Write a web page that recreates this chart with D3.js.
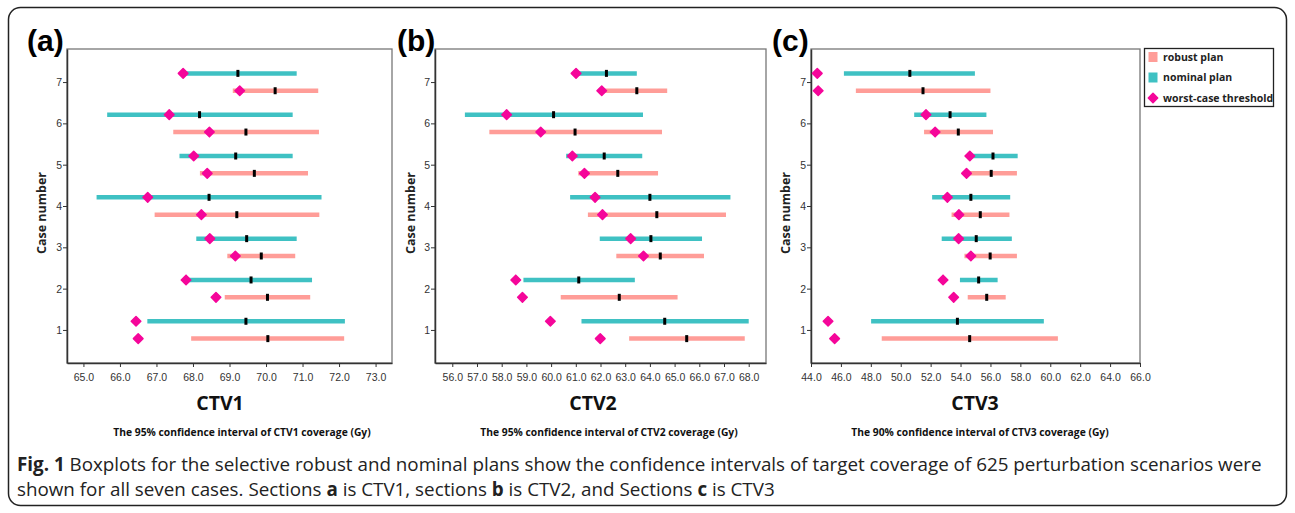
<!DOCTYPE html>
<html>
<head>
<meta charset="utf-8">
<script src="https://cdn.jsdelivr.net/npm/d3@7"></script>
<style>
  body { margin: 0; background: #fff; }
  svg { display: block; }
</style>
</head>
<body>
<svg width="1295" height="513"></svg>
<script>
// case numbers (y axis)
var cases = [1, 2, 3, 4, 5, 6, 7];

// each row: [low, median, high, worst-case threshold], case 1 .. case 7
var ctv1Nominal = [[66.75, 69.45, 72.16, 66.44], [67.81, 69.59, 71.26, 67.81], [68.09, 69.47, 70.84, 68.46],
  [65.36, 68.44, 71.52, 66.76], [67.63, 69.17, 70.73, 68.02], [65.65, 68.18, 70.73, 67.35], [67.73, 69.23, 70.84, 67.73]];
var ctv1Robust = [[67.95, 70.05, 72.14, 66.50], [68.87, 70.04, 71.21, 68.63], [68.94, 69.87, 70.80, 69.16],
  [66.95, 69.20, 71.46, 68.23], [68.19, 69.68, 71.15, 68.39], [67.46, 69.45, 71.45, 68.45], [69.09, 70.25, 71.43, 69.28]];

var ctv2Nominal = [[61.23, 64.60, 68.00, 59.97], [58.88, 61.12, 63.39, 58.57], [61.97, 64.04, 66.11, 63.22],
  [60.77, 64.00, 67.26, 61.78], [60.61, 62.15, 63.69, 60.86], [56.51, 60.10, 63.72, 58.20], [61.01, 62.24, 63.47, 61.01]];
var ctv2Robust = [[63.16, 65.49, 67.84, 61.99], [60.39, 62.76, 65.12, 58.84], [62.64, 64.42, 66.19, 63.74],
  [61.49, 64.28, 67.08, 62.08], [61.10, 62.70, 64.33, 61.35], [57.50, 60.97, 64.49, 59.58], [62.05, 63.47, 64.70, 62.05]];

var ctv3Nominal = [[48.02, 53.79, 59.57, 45.14], [53.96, 55.21, 56.48, 52.83], [52.74, 55.05, 57.43, 53.87],
  [52.10, 54.69, 57.32, 53.12], [54.62, 56.17, 57.82, 54.62], [50.90, 53.30, 55.73, 51.69], [46.20, 50.61, 54.96, 44.42]];
var ctv3Robust = [[48.73, 54.61, 60.51, 45.58], [54.48, 55.75, 57.02, 53.54], [54.26, 55.98, 57.77, 54.69],
  [53.40, 55.32, 57.27, 53.89], [54.40, 56.05, 57.77, 54.40], [51.56, 53.85, 56.17, 52.30], [47.00, 51.49, 56.00, 44.48]];

// x axis tick labels and domains
var ctv1Ticks = [65, 66, 67, 68, 69, 70, 71, 72, 73];
var ctv2Ticks = [56, 57, 58, 59, 60, 61, 62, 63, 64, 65, 66, 67, 68];
var ctv3Ticks = [44, 46, 48, 50, 52, 54, 56, 58, 60, 62, 64, 66];
var ctv1Domain = [64.55, 73.45];
var ctv2Domain = [55.3, 68.7];
var ctv3Domain = [44, 66];

var legendLabels = ["robust plan", "nominal plan", "worst-case threshold"];

var cNominal = "#3fc1c3",
  cRobust = "#ff9d98",
  cWorst = "#f5069a";

var svg = d3.select("svg");

// outer rounded frame
svg.append("rect")
  .attr("x", 8.5).attr("y", 7.5)
  .attr("width", 1278).attr("height", 498)
  .attr("rx", 12)
  .attr("fill", "none")
  .attr("stroke", "#222")
  .attr("stroke-width", 1.5);

var panels = [
  { tag: "(a)", tagX: 27, title: "CTV1", titleX: 220, subX: 242, yLabX: 42,
    sub: "The 95% confidence interval  of  CTV1 coverage (Gy)",
    nominal: ctv1Nominal, robust: ctv1Robust, ticks: ctv1Ticks, domain: ctv1Domain, left: 67, right: 392 },
  { tag: "(b)", tagX: 397, title: "CTV2", titleX: 593, subX: 609, yLabX: 411,
    sub: "The 95% confidence interval  of  CTV2 coverage (Gy)",
    nominal: ctv2Nominal, robust: ctv2Robust, ticks: ctv2Ticks, domain: ctv2Domain, left: 435, right: 766 },
  { tag: "(c)", tagX: 772, title: "CTV3", titleX: 975, subX: 980, yLabX: 786,
    sub: "The 90% confidence interval of CTV3 coverage (Gy)",
    nominal: ctv3Nominal, robust: ctv3Robust, ticks: ctv3Ticks, domain: ctv3Domain, left: 811, right: 1140 }
];

var plotTop = 49, plotBottom = 363;
var y = d3.scaleLinear().domain([0.2, 7.8]).range([plotBottom, plotTop]);
var offset = 0.21;
var diamond = d3.symbol().type(d3.symbolSquare).size(46);

panels.forEach(function(p) {
  var x = d3.scaleLinear().domain(p.domain).range([p.left, p.right]);
  var g = svg.append("g");

  // plot frame
  g.append("rect")
    .attr("x", p.left).attr("y", plotTop)
    .attr("width", p.right - p.left).attr("height", plotBottom - plotTop)
    .attr("fill", "#fff")
    .attr("stroke", "#777")
    .attr("stroke-width", 1.3);

  var xAxis = g.append("g")
    .attr("transform", "translate(0," + plotBottom + ")")
    .call(d3.axisBottom(x).tickValues(p.ticks).tickFormat(d3.format(".1f")).tickSize(4).tickSizeOuter(0));
  var yAxis = g.append("g")
    .attr("transform", "translate(" + p.left + ",0)")
    .call(d3.axisLeft(y).tickValues(cases).tickFormat(d3.format("d")).tickSize(4).tickSizeOuter(0));

  [xAxis, yAxis].forEach(function(a) {
    a.select(".domain").attr("stroke", "#333").attr("stroke-width", 1.5);
    a.selectAll(".tick line").attr("stroke", "#333");
    a.selectAll(".tick text")
      .attr("fill", "#333")
      .style("font-family", "'Liberation Sans', Arial, sans-serif")
      .style("font-size", "10.5px");
  });
  xAxis.selectAll(".tick text").attr("dy", "1.05em");
  yAxis.selectAll(".tick text").attr("x", -5);

  // interval bars, nominal above the case line, robust below
  var rows = [];
  cases.forEach(function(c, i) {
    rows.push({ yv: c + offset, v: p.nominal[i], color: cNominal });
    rows.push({ yv: c - offset, v: p.robust[i], color: cRobust });
  });

  var row = g.selectAll(".row")
    .data(rows)
    .enter().append("g")
    .attr("class", "row");

  row.append("line")
    .attr("x1", function(d) { return x(d.v[0]); })
    .attr("x2", function(d) { return x(d.v[2]); })
    .attr("y1", function(d) { return y(d.yv); })
    .attr("y2", function(d) { return y(d.yv); })
    .attr("stroke", function(d) { return d.color; })
    .attr("stroke-width", 4.5);

  row.append("rect")
    .attr("x", function(d) { return x(d.v[1]) - 1.5; })
    .attr("y", function(d) { return y(d.yv) - 3.5; })
    .attr("width", 3)
    .attr("height", 7)
    .attr("fill", "#000");

  row.append("path")
    .attr("d", diamond)
    .attr("transform", function(d) {
      return "translate(" + x(d.v[3]) + "," + y(d.yv) + ") rotate(45)";
    })
    .attr("fill", cWorst)
    .attr("stroke", cWorst)
    .attr("stroke-width", 1.5)
    .attr("stroke-linejoin", "round");

  // labels
  svg.append("text")
    .attr("x", p.tagX).attr("y", 51)
    .style("font-family", "'Liberation Sans', Arial, sans-serif")
    .style("font-weight", "bold")
    .style("font-size", "30px")
    .text(p.tag);

  svg.append("text")
    .attr("transform", "translate(" + p.yLabX + "," + 213 + ") rotate(-90)")
    .attr("text-anchor", "middle")
    .attr("dy", "0.35em")
    .style("font-family", "'Open Sans', sans-serif")
    .style("font-weight", "bold")
    .style("font-size", "12.5px")
    .attr("fill", "#222")
    .text("Case number");

  svg.append("text")
    .attr("x", p.titleX).attr("y", 410)
    .attr("text-anchor", "middle")
    .style("font-family", "'Open Sans', sans-serif")
    .style("font-weight", "bold")
    .style("font-size", "19.5px")
    .attr("fill", "#111")
    .text(p.title);

  svg.append("text")
    .attr("x", p.subX).attr("y", 436)
    .attr("text-anchor", "middle")
    .style("font-family", "'Open Sans', sans-serif")
    .style("font-weight", "bold")
    .style("font-size", "10.3px")
    .attr("fill", "#111")
    .text(p.sub);
});

// legend
var legend = svg.append("g");
legend.append("rect")
  .attr("x", 1144.5).attr("y", 48.5)
  .attr("width", 129).attr("height", 58)
  .attr("fill", "#fff")
  .attr("stroke", "#222")
  .attr("stroke-width", 1.3);

var legendColors = [cRobust, cNominal, cWorst];
var item = legend.selectAll(".item")
  .data(legendLabels)
  .enter().append("g")
  .attr("transform", function(d, i) { return "translate(1153," + (57 + i * 20.5) + ")"; });

item.filter(function(d, i) { return i < 2; })
  .append("rect")
  .attr("x", -4.5).attr("y", -5)
  .attr("width", 9).attr("height", 10)
  .attr("fill", function(d, i) { return legendColors[i]; });

item.filter(function(d, i) { return i === 2; })
  .append("path")
  .attr("d", d3.symbol().type(d3.symbolSquare).size(44))
  .attr("transform", "rotate(45)")
  .attr("fill", cWorst)
  .attr("stroke", cWorst)
  .attr("stroke-width", 1.5)
  .attr("stroke-linejoin", "round");

item.append("text")
  .attr("x", 10)
  .attr("dy", "0.35em")
  .style("font-family", "'Open Sans', sans-serif")
  .style("font-weight", "bold")
  .style("font-size", "10.5px")
  .attr("fill", "#222")
  .text(function(d) { return d; });

// caption
var captionLines = [
  [["Fig. 1", true], [" Boxplots for the selective robust and nominal plans show the confidence intervals of target coverage of 625 perturbation scenarios were", false]],
  [["shown for all seven cases. Sections ", false], ["a", true], [" is CTV1, sections ", false], ["b", true],
   [" is CTV2, and Sections ", false], ["c", true], [" is CTV3", false]]
];

var caption = svg.append("g")
  .style("font-family", "'Open Sans', sans-serif")
  .attr("fill", "#222");

var lines = caption.selectAll("text")
  .data(captionLines)
  .enter().append("text")
  .attr("x", 17)
  .attr("y", function(d, i) { return 471 + i * 25; })
  .style("font-size", "17px");

lines.selectAll("tspan")
  .data(function(d) { return d; })
  .enter().append("tspan")
  .style("font-weight", function(d) { return d[1] ? "bold" : "normal"; })
  .text(function(d) { return d[0]; });

// fit the first line to the width it has in the figure
var w = lines.node().getComputedTextLength();
var fs = 17 * 1245 / w;
lines.style("font-size", fs + "px");
</script>
</body>
</html>
